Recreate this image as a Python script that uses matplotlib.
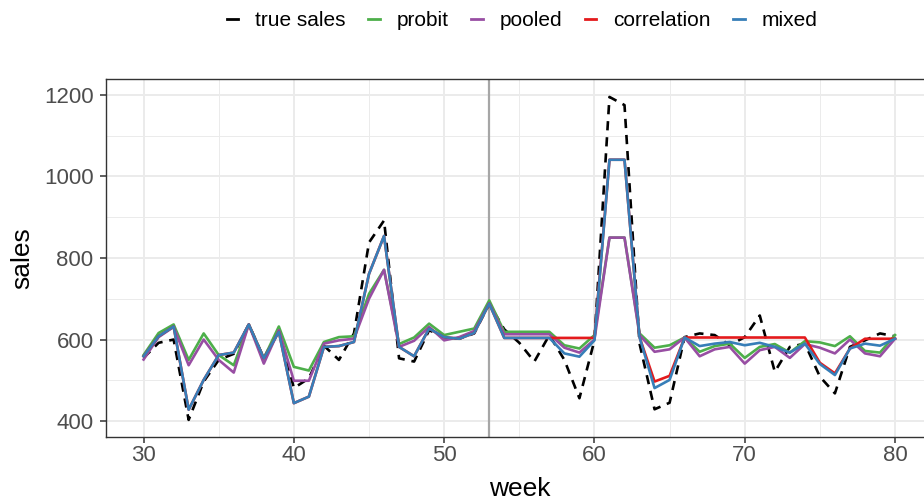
import numpy as np
import matplotlib.pyplot as plt
from matplotlib.ticker import MultipleLocator

plt.rcParams["font.family"] = ["Liberation Sans", "DejaVu Sans"]

TRUE_COLOR = "black"
PROBIT_COLOR = "#4DAF4A"
POOLED_COLOR = "#984EA3"
CORR_COLOR = "#E41A1C"
MIXED_COLOR = "#377EB8"

weeks = list(range(30, 81))

true_sales = [555, 592, 600, 403, 497, 550, 565, 637, 554, 625,
              481, 505, 585, 550, 615, 838, 892, 554, 546, 623,
              606, 602, 615, 688, 625, 592, 546, 611, 550, 456,
              598, 1195, 1175, 590, 429, 445, 606, 615, 611, 586,
              606, 659, 521, 582, 590, 509, 468, 582, 598, 615,
              608]

probit = [562, 616, 637, 550, 615, 562, 537, 637, 554, 632,
          533, 524, 594, 606, 608, 712, 771, 589, 605, 639,
          611, 619, 627, 696, 619, 619, 619, 619, 586, 578,
          611, 850, 850, 615, 580, 586, 605, 570, 584, 590,
          555, 582, 589, 568, 596, 593, 584, 608, 572, 568,
          611]

pooled = [551, 606, 631, 537, 600, 550, 519, 637, 541, 623,
          499, 499, 590, 598, 602, 700, 771, 582, 597, 631,
          598, 606, 621, 689, 613, 613, 613, 613, 580, 568,
          600, 850, 850, 611, 570, 576, 605, 559, 576, 582,
          541, 574, 582, 555, 589, 580, 566, 600, 566, 559,
          602]

correlation = [559, 608, 632, 428, 501, 562, 568, 637, 554, 619,
               444, 460, 582, 584, 594, 761, 854, 582, 559, 627,
               606, 602, 616, 688, 604, 604, 604, 604, 604, 604,
               604, 1041, 1041, 606, 497, 511, 605, 605, 605, 605,
               605, 605, 605, 605, 605, 543, 517, 578, 602, 602,
               602]

mixed = [559, 608, 632, 428, 501, 562, 568, 637, 554, 619,
         444, 460, 582, 584, 594, 761, 854, 582, 559, 627,
         606, 602, 616, 688, 604, 604, 604, 604, 566, 558,
         598, 1041, 1041, 606, 481, 501, 605, 584, 590, 594,
         586, 592, 582, 568, 590, 540, 513, 578, 590, 585,
         602]

split_week = 53

fig = plt.figure(figsize=(9.24, 5.0), dpi=100)
ax = fig.add_axes([106 / 924, 63 / 500, 826.6 / 924, 358 / 500])

ax.axvline(split_week, color="#A6A6A6", linewidth=1.6, zorder=2)

LW = 1.9
ax.plot(weeks, true_sales, color=TRUE_COLOR, linewidth=LW, dashes=(3.5, 2.6), label="true sales", zorder=3)
ax.plot(weeks, probit, color=PROBIT_COLOR, linewidth=LW, label="probit", zorder=3)
ax.plot(weeks, pooled, color=POOLED_COLOR, linewidth=LW, label="pooled", zorder=3)
ax.plot(weeks, correlation, color=CORR_COLOR, linewidth=LW, label="correlation", zorder=3)
ax.plot(weeks, mixed, color=MIXED_COLOR, linewidth=LW, label="mixed", zorder=3)

ax.set_xlim(27.5, 82.5)
ax.set_ylim(361, 1239)
ax.xaxis.set_major_locator(MultipleLocator(10))
ax.xaxis.set_minor_locator(MultipleLocator(5))
ax.yaxis.set_major_locator(MultipleLocator(200))
ax.yaxis.set_minor_locator(MultipleLocator(100))

ax.grid(which="major", color="#EBEBEB", linewidth=1.4, zorder=0)
ax.grid(which="minor", color="#EBEBEB", linewidth=0.7, zorder=0)
ax.set_axisbelow(True)
ax.tick_params(which="minor", length=0)
ax.tick_params(which="major", length=4, width=1.1, color="#333333",
               labelsize=16, labelcolor="#4D4D4D")
ax.tick_params(axis="y", pad=5)
ax.tick_params(axis="x", pad=2)
for sp in ax.spines.values():
    sp.set_color("#333333")
    sp.set_linewidth(1.0)

ax.set_xlabel("week", fontsize=19, labelpad=8)
ax.set_ylabel("sales", fontsize=19, labelpad=7)

handles, labels = ax.get_legend_handles_labels()
leg = fig.legend(handles, labels, loc="center", bbox_to_anchor=(0.565, 0.958), ncol=5,
                 frameon=False, fontsize=15, handlelength=0.55, handletextpad=0.8,
                 columnspacing=1.1)
for line in leg.get_lines():
    line.set_linestyle("-")
    line.set_linewidth(2.0)

fig.savefig("out.png", dpi=100)
